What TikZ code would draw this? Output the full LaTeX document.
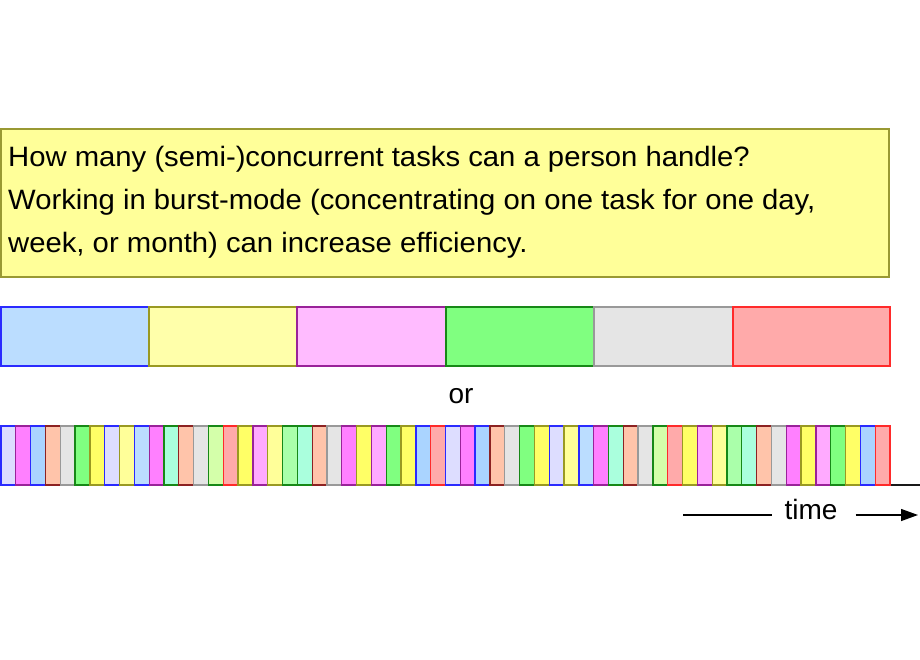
\documentclass[tikz,border=0pt]{standalone}
\usepackage{fontspec}
\setmainfont{Liberation Sans}
\newfontfamily\widefont[FakeStretch=1.045]{Liberation Sans}
\usetikzlibrary{arrows.meta}
\definecolor{bBlue}{HTML}{2A2AFF}
\definecolor{bPurple}{HTML}{992299}
\definecolor{bDarkred}{HTML}{8C2222}
\definecolor{bGray}{HTML}{999999}
\definecolor{bGreen}{HTML}{178817}
\definecolor{bOlive}{HTML}{999922}
\definecolor{bRed}{HTML}{FF2A2A}
\definecolor{fLav}{HTML}{DDDDFF}
\definecolor{fMag}{HTML}{FF80FF}
\definecolor{fLblue}{HTML}{AAD4FF}
\definecolor{fLblueb}{HTML}{BBDDFF}
\definecolor{fPeach}{HTML}{FFC4AA}
\definecolor{fGray}{HTML}{E5E5E5}
\definecolor{fGreen}{HTML}{80FF80}
\definecolor{fYellow}{HTML}{FFFF66}
\definecolor{fLyellow}{HTML}{FFFF99}
\definecolor{fMint}{HTML}{AAFFDD}
\definecolor{fLime}{HTML}{D4FFAA}
\definecolor{fPinkred}{HTML}{FFAAAA}
\definecolor{fLmag}{HTML}{FFAAFF}
\definecolor{fLgreen}{HTML}{AAFFAA}
\definecolor{fPink}{HTML}{FFBBFF}
\definecolor{fTopyellow}{HTML}{FFFFAA}
\definecolor{boxfill}{HTML}{FFFF99}
\definecolor{boxline}{HTML}{999933}
\begin{document}
\begin{tikzpicture}[x=1pt,y=-1pt,
  blk/.style={line width=1.3pt},
  k-lav/.style={blk,fill=fLav,draw=bBlue},
  k-mag/.style={blk,fill=fMag,draw=bPurple},
  k-lblue/.style={blk,fill=fLblue,draw=bBlue},
  k-lblueb/.style={blk,fill=fLblueb,draw=bBlue},
  k-peach/.style={blk,fill=fPeach,draw=bDarkred},
  k-gray/.style={blk,fill=fGray,draw=bGray},
  k-green/.style={blk,fill=fGreen,draw=bGreen},
  k-yellow/.style={blk,fill=fYellow,draw=bOlive},
  k-lyellow/.style={blk,fill=fLyellow,draw=bOlive},
  k-mint/.style={blk,fill=fMint,draw=bGreen},
  k-lime/.style={blk,fill=fLime,draw=bGreen},
  k-pinkred/.style={blk,fill=fPinkred,draw=bRed},
  k-lmag/.style={blk,fill=fLmag,draw=bPurple},
  k-lgreen/.style={blk,fill=fLgreen,draw=bGreen},
  k-pink/.style={blk,fill=fPink,draw=bPurple},
  k-topyellow/.style={blk,fill=fTopyellow,draw=bOlive},
  txt/.style={inner sep=0pt,font=\fontsize{28}{42}\selectfont},
  boxtxt/.style={inner sep=0pt,anchor=base west,font=\widefont\fontsize{28}{42}\selectfont},
  arr/.style={line width=1.3pt}]
\useasboundingbox (0,0) rectangle (920,660);
% question box
\draw[line width=1.3pt,fill=boxfill,draw=boxline] (1,129) rectangle (889,277);
\node[boxtxt] (l1) at (8,167) {How many (semi-)concurrent tasks can a person handle?};
\node[boxtxt] (l2) at (8,210) {Working in burst-mode (concentrating on one task for one day,};
\node[boxtxt] (l3) at (8,252) {week, or month) can increase efficiency.};
% burst row
\foreach \a/\b/\s in {1/149/k-lblueb,149/297/k-topyellow,297/446/k-pink,446/594/k-green,594/733/k-gray,733/890/k-pinkred}
  \draw[\s] (\a,307) rectangle (\b,366);
\node[txt,anchor=base] (or) at (461,403) {or};
% time axis baseline
\draw[line width=1.5pt,black!90] (0,485) -- (920,485);
% interleaved row
\foreach \r in {0,1}{
  \foreach[count=\i from 0] \s in {k-lav,k-mag,k-lblue,k-peach,k-gray,k-green,k-yellow,k-lav,k-lyellow,k-lblueb,
      k-mag,k-mint,k-peach,k-gray,k-lime,k-pinkred,k-yellow,k-lmag,k-lyellow,k-lgreen,
      k-mint,k-peach,k-gray,k-mag,k-yellow,k-lmag,k-green,k-yellow,k-lblue,k-pinkred}{
    \pgfmathsetmacro\xa{1+(\i+30*\r)*14.8167}
    \pgfmathsetmacro\xb{1+(\i+30*\r+1)*14.8167}
    \draw[\s] (\xa,426) rectangle (\xb,485);
  }
}
% time arrow
\node[txt,anchor=base] (time) at (811,519) {time};
\coordinate (tstart) at (683,515);
\coordinate (tend) at (918,515);
\draw[arr] (tstart) -- ([xshift=-12pt]time.west |- tstart);
\draw[arr,-{Triangle[length=17pt,width=12pt]}] ([xshift=18pt]time.east |- tend) -- (tend);
\end{tikzpicture}
\end{document}
